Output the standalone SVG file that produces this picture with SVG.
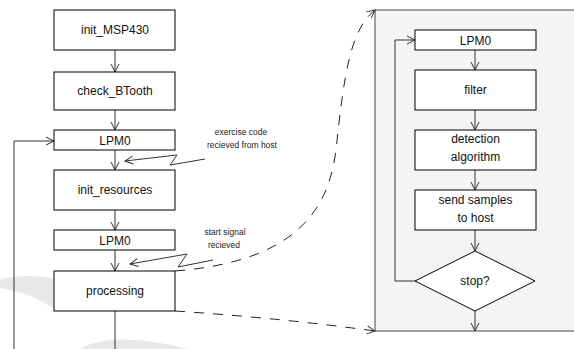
<svg xmlns="http://www.w3.org/2000/svg" width="574" height="349" viewBox="0 0 574 349">
  <style>
    .box { fill: #ffffff; stroke: #000000; stroke-width: 1; }
    .lbl { font-family: "Liberation Sans", Arial, sans-serif; font-size: 12px; fill: #111111; text-anchor: middle; }
    .note { font-family: "Liberation Sans", Arial, sans-serif; font-size: 8.5px; fill: #222222; text-anchor: middle; }
    .wire { fill: none; stroke: #333333; stroke-width: 1; }
    .dash { fill: none; stroke: #222222; stroke-width: 1; stroke-dasharray: 10 9; }
    .mark { fill: #e8e8e8; stroke: none; }
  </style>
  <defs>
    <marker id="open" markerUnits="userSpaceOnUse" markerWidth="10" markerHeight="10" refX="8" refY="4" orient="auto" overflow="visible">
      <path d="M0,0 L8,4 L0,8" fill="none" stroke="#333333" stroke-width="1"/>
    </marker>
  </defs>

  <rect width="574" height="349" fill="#ffffff"/>

  <!-- faint background watermark arcs -->
  <g id="watermark">
    <path class="mark" d="M0,279 Q 30,273 56,279 L56,310 Q 30,292 0,288 Z"/>
    <path class="mark" d="M80,349 Q 112,330 188,349 Z"/>
  </g>

  <!-- expanded view of the processing stage -->
  <g id="panel">
    <path d="M574,10 H375 V331 H574 Z" fill="#f4f4f4" stroke="none"/>
    <path d="M574,10 H375 V331 H574" fill="none" stroke="#444444" stroke-width="1"/>
  </g>

  <g id="connectors">
    <!-- main flow -->
    <path class="wire" d="M115,50 V72" marker-end="url(#open)"/>
    <path class="wire" d="M115,110 V130" marker-end="url(#open)"/>
    <path class="wire" d="M115,150 V170" marker-end="url(#open)"/>
    <path class="wire" d="M115,210 V230" marker-end="url(#open)"/>
    <path class="wire" d="M115,250 V271" marker-end="url(#open)"/>
    <path class="wire" d="M115,311 V349"/>
    <path class="wire" d="M14,349 V141 H54" marker-end="url(#open)"/>
    <!-- event signals -->
    <path class="wire" d="M205,159 L170,165 L177,155 L125,161" marker-end="url(#open)"/>
    <path class="wire" d="M213,260 L178,267 L187,254 L130,264" marker-end="url(#open)"/>
    <!-- zoom-in guides -->
    <path class="dash" d="M175,271 C 290,262 328,215 336,150 C 344,75 350,30 375,10" marker-end="url(#open)"/>
    <path class="dash" d="M175,311 Q 280,318 375,331" marker-end="url(#open)"/>
    <!-- inner loop -->
    <path class="wire" d="M475,50 V70" marker-end="url(#open)"/>
    <path class="wire" d="M475,110 V130" marker-end="url(#open)"/>
    <path class="wire" d="M475,170 V190" marker-end="url(#open)"/>
    <path class="wire" d="M475,230 V251" marker-end="url(#open)"/>
    <path class="wire" d="M475,311 V331" marker-end="url(#open)"/>
    <path class="wire" d="M415,281 H395 V40 H415" marker-end="url(#open)"/>
  </g>

  <g id="init_MSP430">
    <rect class="box" x="54" y="10" width="121" height="40"/>
    <text class="lbl" x="115" y="34">init_MSP430</text>
  </g>
  <g id="check_BTooth">
    <rect class="box" x="54" y="72" width="121" height="38"/>
    <text class="lbl" x="115" y="95">check_BTooth</text>
  </g>
  <g id="lpm0_a">
    <rect class="box" x="54" y="130" width="121" height="20"/>
    <text class="lbl" x="115" y="144.5">LPM0</text>
  </g>
  <g id="init_resources">
    <rect class="box" x="54" y="170" width="121" height="40"/>
    <text class="lbl" x="115" y="194">init_resources</text>
  </g>
  <g id="lpm0_b">
    <rect class="box" x="54" y="230" width="121" height="20"/>
    <text class="lbl" x="115" y="244.5">LPM0</text>
  </g>
  <g id="processing">
    <rect class="box" x="54" y="271" width="121" height="40"/>
    <text class="lbl" x="115" y="295">processing</text>
  </g>

  <g id="note_exercise">
    <text class="note" x="241" y="135">exercise code</text>
    <text class="note" x="242" y="148">recieved from host</text>
  </g>
  <g id="note_start">
    <text class="note" x="225" y="235">start signal</text>
    <text class="note" x="224" y="248">recieved</text>
  </g>

  <g id="lpm0_inner">
    <rect class="box" x="415" y="30" width="121" height="20"/>
    <text class="lbl" x="475.5" y="44.5">LPM0</text>
  </g>
  <g id="filter">
    <rect class="box" x="415" y="70" width="121" height="40"/>
    <text class="lbl" x="475.5" y="94">filter</text>
  </g>
  <g id="detection">
    <rect class="box" x="415" y="130" width="121" height="40"/>
    <text class="lbl" x="475.5" y="143">detection</text>
    <text class="lbl" x="475.5" y="161">algorithm</text>
  </g>
  <g id="send_samples">
    <rect class="box" x="415" y="190" width="121" height="40"/>
    <text class="lbl" x="475.5" y="204">send samples</text>
    <text class="lbl" x="475.5" y="222">to host</text>
  </g>
  <g id="stop">
    <path class="box" d="M475,251 L535,281 L475,311 L415,281 Z"/>
    <text class="lbl" x="475" y="285">stop?</text>
  </g>
</svg>
